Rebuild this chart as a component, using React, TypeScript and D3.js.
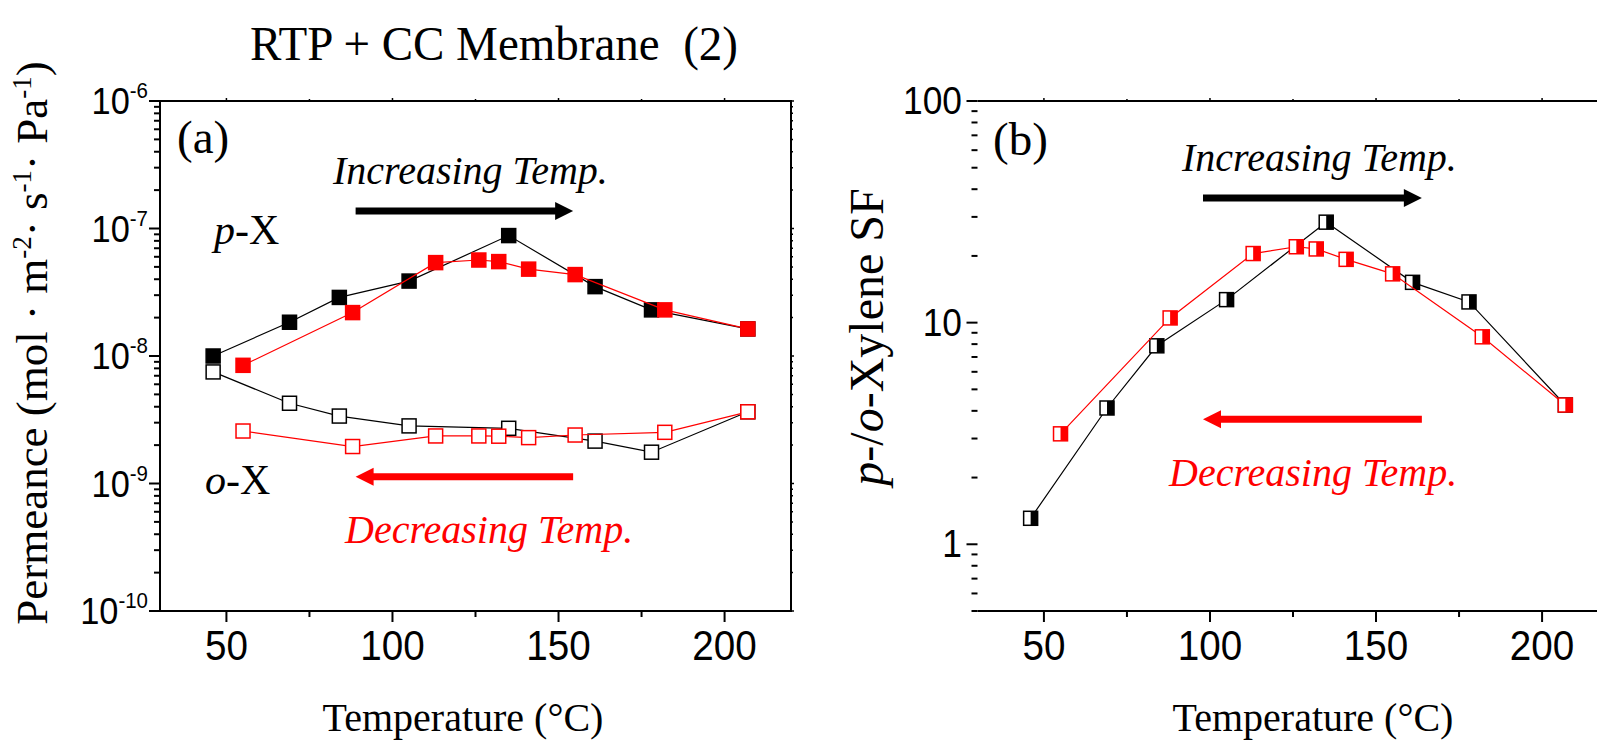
import React from 'react'
import * as d3 from 'd3'

// temperatures (°C) for the heating and cooling runs
const tempUp = [46, 69, 84, 105, 135, 161, 178, 207]
const tempDown = [207, 182, 155, 141, 132, 126, 113, 88, 55]

// permeance, mol m-2 s-1 Pa-1
const pxUp = [1.0e-8, 1.84e-8, 2.88e-8, 3.87e-8, 8.8e-8, 3.5e-8, 2.3e-8, 1.63e-8]
const oxUp = [7.5e-9, 4.26e-9, 3.38e-9, 2.83e-9, 2.71e-9, 2.15e-9, 1.76e-9, 3.65e-9]
const pxDown = [1.63e-8, 2.3e-8, 4.35e-8, 4.8e-8, 5.5e-8, 5.66e-8, 5.4e-8, 2.19e-8, 8.45e-9]
const oxDown = [3.65e-9, 2.52e-9, 2.4e-9, 2.29e-9, 2.35e-9, 2.36e-9, 2.36e-9, 1.95e-9, 2.58e-9]

// p-/o-xylene separation factor
const sfUp = [1.31, 4.12, 7.86, 12.7, 28.4, 15.2, 12.4, 4.25]
const sfDown = [4.25, 8.63, 16.6, 19.3, 21.5, 22.0, 20.5, 10.5, 3.15]

const xTicks = [50, 75, 100, 125, 150, 175, 200]
const xLabels = [50, 100, 150, 200]

const RED = '#ff0000'
const SERIF = '"Liberation Serif", "Times New Roman", serif'
const SANS = '"Liberation Sans", Arial, sans-serif'

const top = 101
const bottom = 611
const xLeft = d3.scaleLinear().domain([30, 220]).range([160, 791])
const xRight = d3.scaleLinear().domain([30, 220]).range([977.5, 1608.5])
const yPerm = d3.scaleLog().domain([1e-10, 1e-6]).range([bottom, top])
const ySF = d3.scaleLog().domain([0.5, 100]).range([bottom, top])

const isMajor = (v: number) => Math.abs(Math.log10(v) - Math.round(Math.log10(v))) < 1e-6

function Arrow({x1, x2, y, color}: {x1: number, x2: number, y: number, color: string}) {
  // head drawn at x2
  const dir = x2 > x1 ? 1 : -1
  const hl = 18, hw = 9, sw = 3.5
  const xb = x2 - dir * hl
  const pts = [[x1, y - sw], [xb, y - sw], [xb, y - hw], [x2, y], [xb, y + hw], [xb, y + sw], [x1, y + sw]]
  return <polygon points={pts.map(p => p.join(',')).join(' ')} fill={color} />
}

function Frame({x, y, right}: {x: any, y: any, right: boolean}) {
  const [x0, x1] = x.range()
  const yt = y.ticks()
  return (
    <g>
      {xTicks.map(t => (
        <line key={'b' + t} x1={x(t)} x2={x(t)} y1={bottom} y2={bottom + (t % 50 === 0 ? 11 : 6)} stroke="#000" strokeWidth={2} />
      ))}
      {xTicks.map(t => (
        <line key={'t' + t} x1={x(t)} x2={x(t)} y1={top} y2={top - (t % 50 === 0 ? 3 : 2)} stroke="#000" strokeWidth={1.5} />
      ))}
      {yt.map((t: number, i: number) => (
        <line key={'l' + i} x1={x0} x2={x0 - (isMajor(t) ? 11 : 6)} y1={y(t)} y2={y(t)} stroke="#000" strokeWidth={2} />
      ))}
      {right && yt.map((t: number, i: number) => (
        <line key={'r' + i} x1={x1} x2={x1 + (isMajor(t) ? 3 : 2)} y1={y(t)} y2={y(t)} stroke="#000" strokeWidth={1.5} />
      ))}
      <path d={`M${x0},${top}H${x1}${right ? `V${bottom}` : `M${x1},${bottom}`}H${x0}Z`} fill="none" stroke="#000" strokeWidth={2} />
      {xLabels.map(t => (
        <text key={'xl' + t} transform={`translate(${x(t)},660) scale(0.92,1)`} textAnchor="middle" fontFamily={SANS} fontSize={42}>{t}</text>
      ))}
    </g>
  )
}

function Series({x, y, temps, vals, color, kind}: any) {
  const line = d3.line<number>().x((_, i) => x(temps[i])).y(d => y(d))
  const s = 14
  return (
    <g>
      <path d={line(vals) || ''} fill="none" stroke={color} strokeWidth={1.2} />
      {vals.map((v: number, i: number) => {
        const cx = x(temps[i]), cy = y(v)
        if (kind === 'half') {
          return (
            <g key={i}>
              <rect x={cx - s / 2} y={cy - s / 2} width={s} height={s} fill="#fff" stroke={color} strokeWidth={1.5} />
              <rect x={cx} y={cy - s / 2} width={s / 2} height={s} fill={color} />
            </g>
          )
        }
        return <rect key={i} x={cx - s / 2} y={cy - s / 2} width={s} height={s}
          fill={kind === 'filled' ? color : '#fff'} stroke={color} strokeWidth={1.5} />
      })}
    </g>
  )
}

export default function App() {
  const permTicks = yPerm.ticks().filter(isMajor)
  const sfTicks = ySF.ticks().filter(isMajor)
  return (
    <svg width={1597} height={740} style={{position: 'absolute', left: 0, top: 0, background: '#fff'}}>
      <text x={250} y={60} fontFamily={SERIF} fontSize={48} textLength={488} lengthAdjust="spacingAndGlyphs">
        {'RTP + CC Membrane\u00a0\u00a0(2)'}
      </text>

      {/* panel (a) */}
      <Frame x={xLeft} y={yPerm} right={true} />
      {permTicks.map((t, i) => (
        <text key={i} transform={`translate(148,${yPerm(t) + 13}) scale(0.93,1)`} textAnchor="end" fontFamily={SANS} fontSize={37}>
          10<tspan dy={-16} fontSize={22}>{Math.round(Math.log10(t))}</tspan>
        </text>
      ))}
      <text transform="translate(47,343) rotate(-90)" textAnchor="middle" fontFamily={SERIF} fontSize={45}>
        Permeance (mol · m<tspan dy={-16} fontSize={27}>-2</tspan><tspan dy={16}>· s</tspan><tspan dy={-16} fontSize={27}>-1</tspan><tspan dy={16}>· Pa</tspan><tspan dy={-16} fontSize={27}>-1</tspan><tspan dy={16}>)</tspan>
      </text>
      <Series x={xLeft} y={yPerm} temps={tempUp} vals={pxUp} color="#000" kind="filled" />
      <Series x={xLeft} y={yPerm} temps={tempUp} vals={oxUp} color="#000" kind="open" />
      <Series x={xLeft} y={yPerm} temps={tempDown} vals={pxDown} color={RED} kind="filled" />
      <Series x={xLeft} y={yPerm} temps={tempDown} vals={oxDown} color={RED} kind="open" />
      <text x={177} y={153} fontFamily={SERIF} fontSize={47}>(a)</text>
      <text x={333} y={184} fontFamily={SERIF} fontSize={40} fontStyle="italic">Increasing Temp.</text>
      <text x={345} y={543} fontFamily={SERIF} fontSize={40} fontStyle="italic" fill={RED}>Decreasing Temp.</text>
      <text x={214} y={244} fontFamily={SERIF} fontSize={42}><tspan fontStyle="italic">p</tspan>-X</text>
      <text x={205} y={494} fontFamily={SERIF} fontSize={42}><tspan fontStyle="italic">o</tspan>-X</text>
      <Arrow x1={xLeft(88.9)} x2={xLeft(154.4)} y={yPerm(1.37e-7)} color="#000" />
      <Arrow x1={xLeft(154.4)} x2={xLeft(88.9)} y={yPerm(1.13e-9)} color={RED} />
      <text x={463} y={731} textAnchor="middle" fontFamily={SERIF} fontSize={40}>Temperature (°C)</text>

      {/* panel (b) */}
      <Frame x={xRight} y={ySF} right={false} />
      {sfTicks.map((t, i) => (
        <text key={i} transform={`translate(962,${ySF(t) + 13}) scale(0.93,1)`} textAnchor="end" fontFamily={SANS} fontSize={38}>{t}</text>
      ))}
      <text transform="translate(883,337) rotate(-90)" textAnchor="middle" fontFamily={SERIF} fontSize={48}>
        <tspan fontStyle="italic">p</tspan>-/<tspan fontStyle="italic">o</tspan>-Xylene SF
      </text>
      <Series x={xRight} y={ySF} temps={tempUp} vals={sfUp} color="#000" kind="half" />
      <Series x={xRight} y={ySF} temps={tempDown} vals={sfDown} color={RED} kind="half" />
      <text x={993} y={155} fontFamily={SERIF} fontSize={47}>(b)</text>
      <text x={1182} y={171} fontFamily={SERIF} fontSize={40} fontStyle="italic">Increasing Temp.</text>
      <text x={1169} y={486} fontFamily={SERIF} fontSize={40} fontStyle="italic" fill={RED}>Decreasing Temp.</text>
      <Arrow x1={xRight(97.9)} x2={xRight(163.8)} y={ySF(36.5)} color="#000" />
      <Arrow x1={xRight(163.8)} x2={xRight(97.9)} y={ySF(3.67)} color={RED} />
      <text x={1313} y={731} textAnchor="middle" fontFamily={SERIF} fontSize={40}>Temperature (°C)</text>
    </svg>
  )
}
